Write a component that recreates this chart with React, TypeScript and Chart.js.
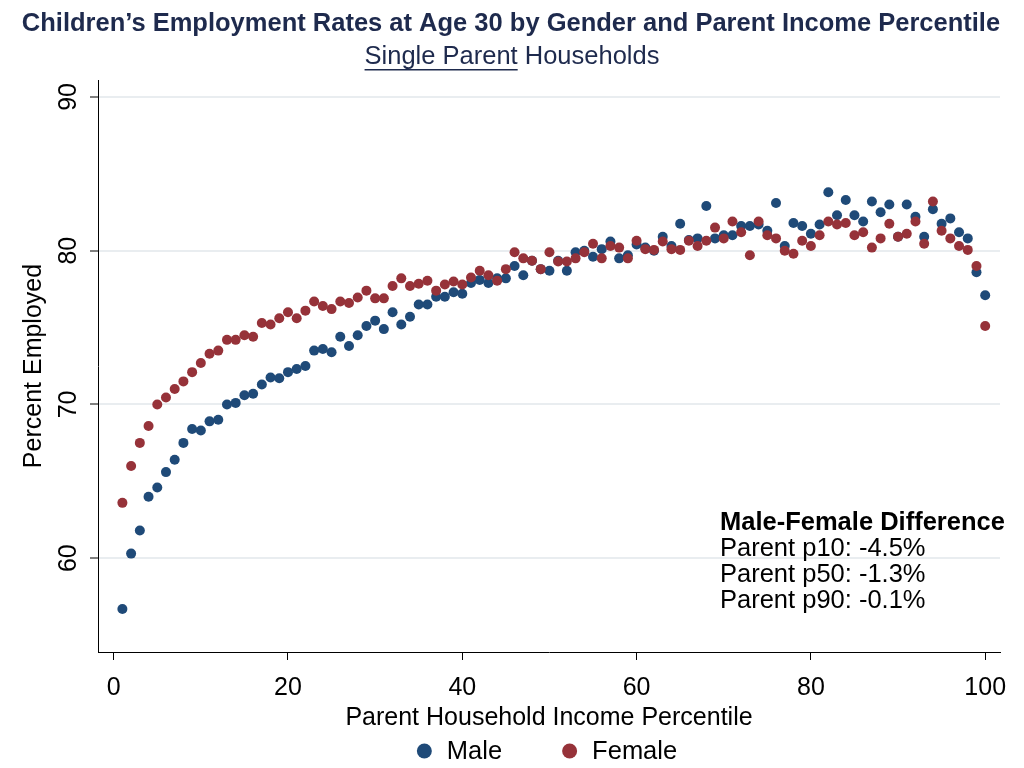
import React, { useEffect, useRef } from "react";
import { Chart, registerables } from "chart.js";

Chart.register(...registerables);

const FONT = "'Liberation Sans', Arial, Helvetica, sans-serif";

const titleText = "Children’s Employment Rates at Age 30 by Gender and Parent Income Percentile";
const subtitleUnderlined = "Single Parent";
const subtitleRest = " Households";
const xAxisTitle = "Parent Household Income Percentile";
const yAxisTitle = "Percent Employed";
const noteTitle = "Male-Female Difference";
const noteLines = ["Parent p10: -4.5%", "Parent p50: -1.3%", "Parent p90: -0.1%"];

const percentiles = [
  1, 2, 3, 4, 5, 6, 7, 8, 9, 10, 11, 12, 13, 14, 15, 16, 17, 18, 19, 20,
  21, 22, 23, 24, 25, 26, 27, 28, 29, 30, 31, 32, 33, 34, 35, 36, 37, 38, 39, 40,
  41, 42, 43, 44, 45, 46, 47, 48, 49, 50, 51, 52, 53, 54, 55, 56, 57, 58, 59, 60,
  61, 62, 63, 64, 65, 66, 67, 68, 69, 70, 71, 72, 73, 74, 75, 76, 77, 78, 79, 80,
  81, 82, 83, 84, 85, 86, 87, 88, 89, 90, 91, 92, 93, 94, 95, 96, 97, 98, 99, 100,
];

const maleRates = [
  56.7, 60.3, 61.8, 64.0, 64.6, 65.6, 66.4, 67.5, 68.4, 68.3,
  68.9, 69.0, 70.0, 70.1, 70.6, 70.7, 71.3, 71.75, 71.7, 72.1,
  72.3, 72.5, 73.5, 73.6, 73.4, 74.4, 73.8, 74.5, 75.1, 75.45,
  74.9, 76.0, 75.2, 75.7, 76.5, 76.5, 77.0, 77.0, 77.3, 77.2,
  77.9, 78.1, 77.9, 78.2, 78.2, 79.0, 78.4, 79.35, 78.8, 78.7,
  79.35, 78.7, 79.9, 80.0, 79.6, 80.1, 80.6, 79.5, 79.7, 80.4,
  80.2, 80.0, 80.9, 80.3, 81.75, 80.7, 80.8, 82.9, 80.8, 81.0,
  81.0, 81.6, 81.6, 81.7, 81.3, 83.1, 80.3, 81.8, 81.6, 81.1,
  81.7, 83.8, 82.3, 83.3, 82.3, 81.9, 83.2, 82.5, 83.0, 80.9,
  83.0, 82.2, 80.9, 82.7, 81.75, 82.1, 81.2, 80.8, 78.6, 77.1,
];

const femaleRates = [
  63.6, 66.0, 67.5, 68.6, 70.0, 70.45, 71.0, 71.5, 72.1, 72.7,
  73.3, 73.5, 74.2, 74.2, 74.5, 74.4, 75.3, 75.2, 75.6, 76.0,
  75.6, 76.1, 76.7, 76.4, 76.2, 76.7, 76.6, 76.95, 77.4, 76.9,
  76.9, 77.7, 78.2, 77.7, 77.85, 78.05, 77.4, 77.8, 78.0, 77.8,
  78.25, 78.7, 78.4, 78.05, 78.8, 79.9, 79.5, 79.35, 78.8, 79.9,
  79.3, 79.3, 79.5, 79.9, 80.45, 79.5, 80.3, 80.2, 79.5, 80.65,
  80.1, 80.05, 80.6, 80.1, 80.05, 80.65, 80.3, 80.65, 81.5, 80.8,
  81.9, 81.2, 79.7, 81.9, 81.0, 80.8, 80.0, 79.8, 80.65, 80.3,
  81.0, 81.9, 81.7, 81.8, 81.0, 81.2, 80.2, 80.8, 81.75, 80.9,
  81.1, 81.9, 80.45, 83.2, 81.3, 80.8, 80.3, 80.05, 79.0, 75.1,
];

const xTicks = [0, 20, 40, 60, 80, 100];
const yTicks = [60, 70, 80, 90];

const MALE_COLOR = "#1f4a78";
const FEMALE_COLOR = "#963239";
const TITLE_COLOR = "#1e2a4d";

const textPlugin = {
  id: "customText",
  afterDraw(chart: any) {
    const ctx = chart.ctx as CanvasRenderingContext2D;
    const ys = chart.scales.y;
    const area = chart.chartArea;
    ctx.save();
    // Title
    ctx.fillStyle = TITLE_COLOR;
    ctx.textAlign = "center";
    ctx.textBaseline = "middle";
    ctx.font = `bold 25.5px ${FONT}`;
    ctx.fillText(titleText, 511, 24);
    // Subtitle with underline
    ctx.font = `25.5px ${FONT}`;
    const wFull = ctx.measureText(subtitleUnderlined + subtitleRest).width;
    const wU = ctx.measureText(subtitleUnderlined).width;
    const sx = 512 - wFull / 2;
    ctx.textAlign = "left";
    ctx.fillText(subtitleUnderlined, sx, 57);
    ctx.fillText(subtitleRest, sx + wU, 57);
    ctx.fillRect(sx, 69, wU, 1.5);
    // Y tick labels (rotated)
    ctx.fillStyle = "#000";
    ctx.font = `25px ${FONT}`;
    ys.ticks.forEach((t: any) => {
      const py = ys.getPixelForValue(t.value);
      ctx.save();
      ctx.translate(69, py);
      ctx.rotate(-Math.PI / 2);
      ctx.textAlign = "center";
      ctx.textBaseline = "middle";
      ctx.fillText(String(t.value), 0, 0);
      ctx.restore();
    });
    // Annotation
    ctx.textAlign = "left";
    ctx.textBaseline = "middle";
    ctx.font = `bold 25.5px ${FONT}`;
    ctx.fillText(noteTitle, 720, 523);
    ctx.font = `25.5px ${FONT}`;
    noteLines.forEach((line, i) => ctx.fillText(line, 720, 549 + i * 26));
    // Legend
    ctx.font = `25.5px ${FONT}`;
    const items = chart.data.datasets.map((d: any) => ({
      label: d.label as string,
      color: d.backgroundColor as string,
      w: ctx.measureText(d.label).width,
    }));
    const gap = 60;
    const markerToText = 30;
    const total = items.reduce((s: number, it: any) => s + markerToText + it.w, 0) + gap * (items.length - 1);
    let x = (area.left + area.right) / 2 - 2 - total / 2;
    const ly = 752;
    items.forEach((it: any) => {
      ctx.fillStyle = it.color;
      ctx.beginPath();
      ctx.arc(x + 7.5, ly - 1, 7.5, 0, Math.PI * 2);
      ctx.fill();
      ctx.fillStyle = "#000";
      ctx.fillText(it.label, x + markerToText, ly);
      x += markerToText + it.w + gap;
    });
    ctx.restore();
  },
};

export default function App() {
  const canvasRef = useRef<HTMLCanvasElement | null>(null);

  useEffect(() => {
    if (!canvasRef.current) return;
    const chart = new Chart(canvasRef.current, {
      type: "scatter",
      data: {
        datasets: [
          {
            label: "Male",
            data: percentiles.map((p, i) => ({ x: p, y: maleRates[i] })),
            backgroundColor: MALE_COLOR,
            borderWidth: 0,
            pointRadius: 5,
            order: 1,
          },
          {
            label: "Female",
            data: percentiles.map((p, i) => ({ x: p, y: femaleRates[i] })),
            backgroundColor: FEMALE_COLOR,
            borderWidth: 0,
            pointRadius: 5,
            order: 0,
          },
        ],
      },
      options: {
        responsive: false,
        animation: false,
        devicePixelRatio: 1,
        layout: { padding: { top: 80, right: 24, left: 0, bottom: 34 } },
        plugins: {
          legend: { display: false },
          tooltip: { enabled: false },
        },
        scales: {
          x: {
            type: "linear",
            min: -1.8,
            max: 101.7,
            afterBuildTicks: (scale: any) => {
              scale.ticks = xTicks.map((v) => ({ value: v }));
            },
            afterFit: (scale: any) => {
              scale.height = 82;
            },
            ticks: {
              color: "#000",
              font: { family: FONT, size: 25 },
              padding: 13,
              maxRotation: 0,
            },
            grid: {
              drawOnChartArea: false,
              drawTicks: true,
              tickLength: 8,
              tickColor: "#000",
              color: "#000",
            },
            border: { display: true, color: "#000", width: 1 },
            title: {
              display: true,
              text: xAxisTitle,
              color: "#000",
              font: { family: FONT, size: 25 },
              padding: { top: 0, bottom: 1 },
            },
          },
          y: {
            type: "linear",
            min: 53.9,
            max: 91.1,
            afterBuildTicks: (scale: any) => {
              scale.ticks = yTicks.map((v) => ({ value: v }));
            },
            afterFit: (scale: any) => {
              scale.width = 98;
            },
            ticks: {
              color: "rgba(0,0,0,0)",
              font: { family: FONT, size: 25 },
            },
            grid: {
              color: "#e9edf0",
              lineWidth: 2,
              tickColor: "#000",
              tickLength: 8,
              tickWidth: 1,
            },
            border: { display: true, color: "#000", width: 1 },
            title: {
              display: true,
              text: yAxisTitle,
              color: "#000",
              font: { family: FONT, size: 25 },
              padding: { top: 19, bottom: 0 },
            },
          },
        },
      },
      plugins: [textPlugin],
    });
    return () => chart.destroy();
  }, []);

  return (
    <div style={{ position: "fixed", left: 0, top: 0, width: 1024, height: 768, background: "#fff" }}>
      <canvas ref={canvasRef} width={1024} height={768} />
    </div>
  );
}
